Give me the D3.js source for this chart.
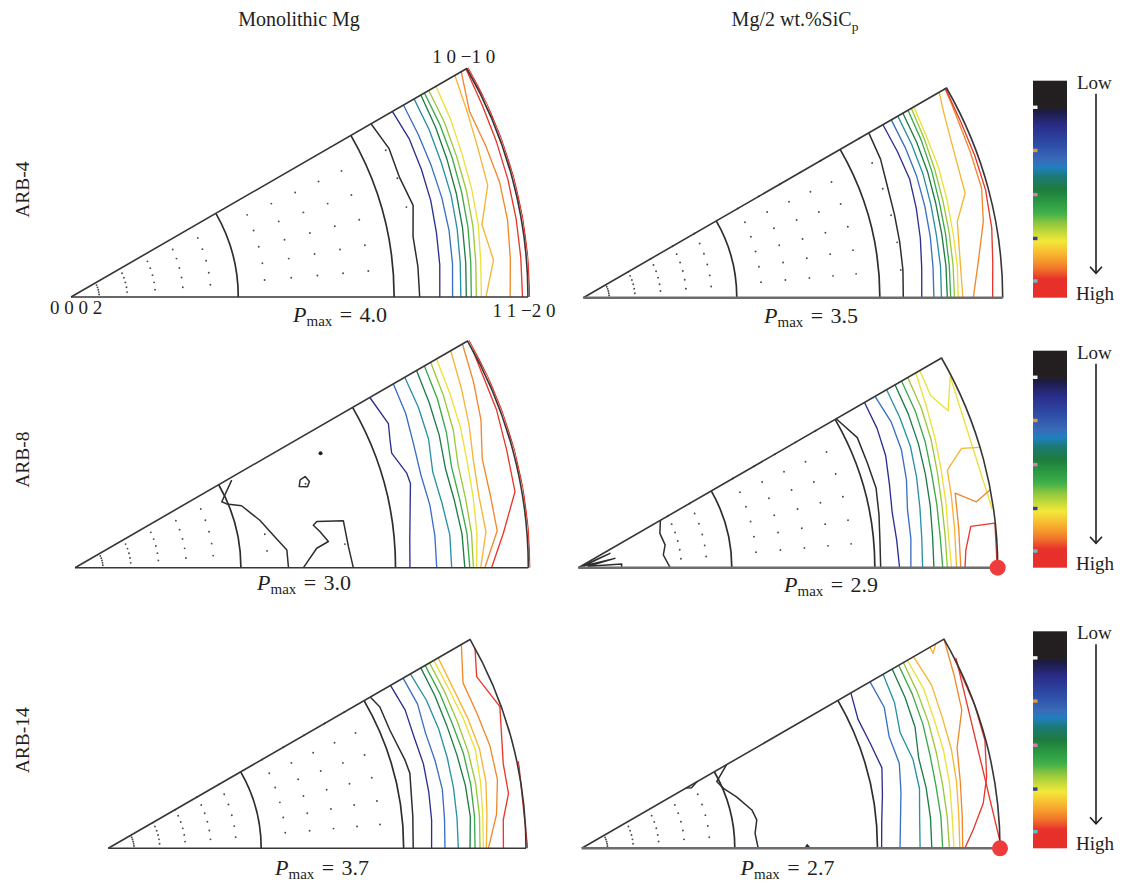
<!DOCTYPE html>
<html>
<head>
<meta charset="utf-8">
<script src="https://cdn.jsdelivr.net/npm/d3@7"></script>
<style>
  html, body { margin: 0; background: #fff; }
  svg { display: block; }
  text { font-family: "Liberation Serif", "DejaVu Serif", serif; fill: #231f20; }
</style>
</head>
<body>
<svg id="chart" width="1126" height="881"></svg>
<script>
// ---------------------------------------------------------------------------
// Inverse pole figures (basal 0002 at the apex, 10-10 top, 11-20 right).
// Radii are fractions of the outer circle (equal-area projection),
// azimuths φ are in degrees measured from the 0002–11-20 edge.
// ---------------------------------------------------------------------------
const columnTitles = ["Monolithic Mg", "Mg/2 wt.%SiC"];
const columnTitleSub = ["", "p"];
const rowLabels = ["ARB-4", "ARB-8", "ARB-14"];
const pmaxLabels = ["4.0", "3.5", "3.0", "2.9", "3.7", "2.7"];
const peakMarkers = [false, false, false, true, false, true];
const cornerLabels = ["0 0 0 2", "1 0 \u22121 0", "1 1 \u22122 0"];

const phiSamples = [0, 5, 10, 15, 20, 25, 30];   // azimuths of regular contour samples
const referenceArcs = [30, 60];                   // polar angles Φ of drawn reference circles

const levelColor = {
  black: "#2e2e2e", navy: "#2d2f8e", blue: "#3b6fc3", teal: "#2990a5",
  dkgreen: "#1f7b47", green: "#3ca94b", ltgreen: "#9cc93c", yellow: "#ebe13a",
  ltorange: "#f6b534", orange: "#f0892d", red: "#e8382c"
};

// colour scale of the legend bar (offset, colour)
const scaleStops = [
  [0, "#231f20"], [0.12, "#231f20"], [0.14, "#1c1c44"], [0.21, "#2a2d8a"],
  [0.30, "#2e4fa8"], [0.365, "#3a6bb8"], [0.40, "#1f7fbf"], [0.44, "#1c7a78"],
  [0.50, "#1d7b3d"], [0.56, "#2c9a42"], [0.61, "#3fb04a"], [0.655, "#8cc63f"],
  [0.70, "#c5d93a"], [0.74, "#f2e93a"], [0.785, "#f8c132"], [0.83, "#f59a2b"],
  [0.87, "#f0702a"], [0.915, "#e8302a"], [1, "#e8302a"]
];
const scaleTicks = [[0.1225, "#f4f4f4"], [0.3216, "#e89a3a"], [0.525, "#d77fb0"], [0.727, "#3040a0"], [0.923, "#60c0c8"]];

// contour: [level, radii at phiSamples]  or  [level, [[r, φ], ...]]
const arb4Mono = [
  ["black",   [0.763, 0.762, 0.760, 0.775, 0.765, 0.768, 0.758]],
  ["navy",    [0.807, 0.810, 0.812, 0.815, 0.816, 0.817, 0.812]],
  ["blue",    [0.835, 0.838, 0.840, 0.840, 0.839, 0.839, 0.840]],
  ["teal",    [0.853, 0.855, 0.858, 0.861, 0.862, 0.865, 0.867]],
  ["dkgreen", [0.865, 0.867, 0.870, 0.873, 0.876, 0.880, 0.884]],
  ["green",   [0.876, 0.878, 0.882, 0.885, 0.888, 0.891, 0.893]],
  ["ltgreen", [0.887, 0.889, 0.893, 0.896, 0.898, 0.902, 0.904]],
  ["yellow",  [0.898, 0.900, 0.905, 0.908, 0.911, 0.917, 0.922]],
  ["ltorange",[0.908, 0.928, 0.913, 0.944, 0.948, 0.957, 0.970]],
  ["orange",  [0.961, 0.965, 0.970, 0.971, 0.966, 0.962, 0.986]],
  ["red",     [0.988, 0.988, 0.989, 0.990, 0.991, 0.993, 0.998]],
  ["red",     [1.004, 1.004, 1.004, 1.004, 1.004, 1.004, 1.004]]
];
const arb4Sic = [
  ["black",   [0.763, 0.765, 0.766, 0.768, 0.772, 0.782, 0.786]],
  ["navy",    [0.807, 0.810, 0.816, 0.822, 0.828, 0.826, 0.825]],
  ["blue",    [0.836, 0.837, 0.840, 0.843, 0.846, 0.847, 0.848]],
  ["teal",    [0.854, 0.855, 0.855, 0.858, 0.862, 0.864, 0.866]],
  ["dkgreen", [0.868, 0.868, 0.868, 0.870, 0.874, 0.877, 0.880]],
  ["green",   [0.876, 0.876, 0.877, 0.879, 0.884, 0.889, 0.894]],
  ["ltgreen", [0.885, 0.885, 0.886, 0.888, 0.892, 0.897, 0.903]],
  ["yellow",  [0.894, 0.895, 0.895, 0.898, 0.902, 0.904, 0.910]],
  ["ltorange",[[0.905, 0], [0.903, 6], [0.910, 11.5], [0.944, 15.3], [0.949, 21], [0.967, 27.4], [0.980, 30]]],
  ["orange",  [[0.930, 0], [0.946, 5.3], [0.971, 10.8], [0.985, 15.4], [0.986, 20.7], [0.992, 27.6], [0.996, 30]]],
  ["red",     [[0.976, 0], [0.980, 5], [0.988, 9.7], [0.993, 15], [0.993, 20], [0.993, 25], [0.997, 30]]]
];
const arb8Mono = [
  ["black",   [[0.396, 29.2], [0.355, 24.2], [0.363, 22.8], [0.392, 20.4], [0.421, 14.4], [0.443, 9.4], [0.469, 4.8], [0.471, 0]]],
  ["black",   [[0.504, 0], [0.535, 4.6], [0.562, 5.9], [0.546, 8.4], [0.534, 10.1], [0.543, 10.8], [0.601, 9.9], [0.605, 4.4], [0.614, 0]]],
  ["black",   [[0.533, 21.3], [0.546, 21.6], [0.551, 20.2], [0.543, 19.2], [0.526, 19.9], [0.533, 21.3]]],
  ["navy",    [[0.751, 30], [0.761, 24.7], [0.750, 22.1], [0.743, 19.9], [0.761, 15.9], [0.763, 14.1], [0.741, 4.7], [0.739, 0]]],
  ["blue",    [0.798, 0.797, 0.795, 0.790, 0.795, 0.805, 0.811]],
  ["teal",    [0.831, 0.830, 0.822, 0.817, 0.830, 0.836, 0.840]],
  ["dkgreen", [0.860, 0.857, 0.850, 0.846, 0.855, 0.862, 0.870]],
  ["green",   [0.871, 0.868, 0.862, 0.860, 0.872, 0.882, 0.890]],
  ["ltgreen", [0.879, 0.878, 0.875, 0.875, 0.888, 0.897, 0.906]],
  ["yellow",  [0.886, 0.890, 0.892, 0.896, 0.905, 0.912, 0.921]],
  ["ltorange",[0.895, 0.910, 0.905, 0.910, 0.925, 0.940, 0.957]],
  ["orange",  [0.904, 0.935, 0.930, 0.930, 0.953, 0.970, 0.987]],
  ["red",     [[0.919, 0], [0.948, 4.6], [0.985, 9.8], [0.987, 15.2], [0.993, 20.5], [1.0, 28.6]]],
  ["red",     [1.004, 1.004, 1.004, 1.004, 1.004, 1.004, 1.004]]
];
const arb8Sic = [
  ["black",   [[0.0, 0], [0.083, 24.4], [0.013, 18], [0.090, 14.3], [0.024, 7.6], [0.104, 4.8], [0.103, 0]]],
  ["black",   [[0.226, 30], [0.211, 22.8], [0.214, 14.7], [0.205, 8.5], [0.219, 0]]],
  ["black",   [0.721, 0.722, 0.728, 0.735, 0.733, 0.734, 0.710]],
  ["navy",    [0.766, 0.762, 0.760, 0.768, 0.780, 0.786, 0.788]],
  ["blue",    [0.793, 0.796, 0.797, 0.810, 0.820, 0.823, 0.817]],
  ["teal",    [0.821, 0.822, 0.827, 0.835, 0.843, 0.846, 0.849]],
  ["dkgreen", [0.848, 0.848, 0.852, 0.857, 0.863, 0.868, 0.872]],
  ["green",   [0.869, 0.866, 0.868, 0.872, 0.880, 0.886, 0.890]],
  ["ltgreen", [0.880, 0.878, 0.880, 0.886, 0.895, 0.902, 0.907]],
  ["yellow",  [0.890, 0.886, 0.890, 0.896, 0.905, 0.915, 0.929]],
  ["yellow",  [[0.940, 30], [0.935, 26], [0.958, 23], [0.997, 27.2], [0.997, 8]]],
  ["ltorange",[[0.902, 0], [0.902, 6], [0.906, 11], [0.910, 14.8], [0.957, 17.3], [0.998, 16.7]]],
  ["orange",  [[0.912, 0], [0.912, 6], [0.916, 11.2], [0.962, 9.4], [0.999, 10.7]]],
  ["red",     [[0.922, 0], [0.925, 2.6], [0.941, 6], [0.999, 6.1], [0.999, 0]]]
];
const arb14Mono = [
  ["black",   [[0.730, 0], [0.733, 6], [0.744, 14], [0.741, 16.6], [0.731, 22.8], [0.733, 27.5], [0.724, 30]]],
  ["navy",    [0.774, 0.777, 0.779, 0.781, 0.779, 0.784, 0.780]],
  ["blue",    [0.806, 0.808, 0.812, 0.810, 0.808, 0.817, 0.815]],
  ["teal",    [0.838, 0.838, 0.839, 0.840, 0.841, 0.840, 0.835]],
  ["dkgreen", [0.866, 0.870, 0.868, 0.864, 0.862, 0.863, 0.864]],
  ["green",   [0.878, 0.880, 0.881, 0.880, 0.876, 0.876, 0.876]],
  ["ltgreen", [0.890, 0.892, 0.893, 0.892, 0.889, 0.888, 0.888]],
  ["yellow",  [0.898, 0.900, 0.905, 0.910, 0.905, 0.900, 0.900]],
  ["ltorange",[0.905, 0.910, 0.918, 0.920, 0.915, 0.910, 0.912]],
  ["orange",  [0.910, 0.933, 0.946, 0.946, 0.940, 0.937, 0.976]],
  ["red",     [[0.946, 0], [0.948, 4.1], [0.967, 7.8], [0.967, 12.1], [0.997, 19.9], [0.973, 25], [1.0, 28.6]]],
  ["red",     [[1.004, 0], [1.004, 12]]]
];
const arb14Sic = [
  ["black",   [[0.400, 30], [0.360, 26.3], [0.368, 22.9], [0.390, 18.4], [0.417, 12.7], [0.424, 9.2], [0.416, 4.9], [0.422, 0]]],
  ["black",   [[0.288, 30], [0.300, 28.9], [0.318, 30]]],
  ["black",   [[0.534, 0], [0.539, 0.9], [0.546, 0]]],
  ["navy",    [0.717, 0.720, 0.730, 0.743, 0.734, 0.729, 0.743]],
  ["blue",    [0.761, 0.765, 0.775, 0.786, 0.782, 0.798, 0.796]],
  ["teal",    [0.809, 0.811, 0.820, 0.820, 0.810, 0.825, 0.832]],
  ["dkgreen", [0.837, 0.837, 0.836, 0.834, 0.848, 0.853, 0.857]],
  ["green",   [0.863, 0.862, 0.860, 0.862, 0.868, 0.872, 0.875]],
  ["ltgreen", [0.879, 0.877, 0.876, 0.878, 0.882, 0.885, 0.888]],
  ["yellow",  [0.890, 0.889, 0.893, 0.896, 0.897, 0.902, 0.899]],
  ["ltorange",[0.904, 0.905, 0.910, 0.915, 0.917, 0.923, 0.916]],
  ["ltorange",[[0.961, 30], [0.961, 29], [0.977, 30]]],
  ["orange",  [0.911, 0.913, 0.919, 0.929, 0.967, 0.982, 1.0]],
  ["red",     [[0.916, 0], [0.937, 2.7], [0.966, 6.4], [0.983, 10], [0.998, 15], [1.0, 20], [1.0, 27]]],
  ["red",     [[1.004, 0], [1.004, 27]]]
];

// low-intensity grid points: [Φ, φ from, φ to] on a 5° grid
const arb4MonoDots = [[5,5,25],[10,5,25],[15,5,25],[20,5,25],[25,5,25],[35,5,25],[40,5,25],[45,5,25],[50,5,25],[55,5,25],[65,15,25]];
const arb4SicDots  = [[5,5,30],[10,5,30],[15,5,30],[20,5,30],[25,5,30],[35,5,30],[40,5,30],[45,5,30],[50,5,30],[55,5,30],[65,5,30]];
const arb8MonoDots = [[5,5,25],[10,5,25],[15,5,25],[20,5,25],[25,5,25],[35,5,10],[45,20,20],[50,5,5]];
const arb8SicDots  = [[20,5,30],[25,5,30],[35,5,30],[40,5,30],[45,5,30],[50,5,30],[55,5,30]];
const arb14MonoDots= [[5,5,30],[10,5,30],[15,5,30],[20,5,30],[25,5,30],[35,5,30],[40,5,30],[45,5,30],[50,5,30],[55,5,30]];
const arb14SicDots = [[5,5,25],[10,5,25],[15,5,25],[20,5,25],[25,5,25]];
const arb8MonoSpots = [[50, 25]];

// ---------------------------------------------------------------------------
// layout
// ---------------------------------------------------------------------------
const panels = [
  { x: 71,    y: 297,   R: 457,   contours: arb4Mono,  dots: arb4MonoDots,  spots: [],            label: [340, 321.7] },
  { x: 583.3, y: 297.7, R: 419.4, contours: arb4Sic,   dots: arb4SicDots,   spots: [],            label: [811, 323.3] },
  { x: 75,    y: 567.7, R: 453.3, contours: arb8Mono,  dots: arb8MonoDots,  spots: arb8MonoSpots, label: [304, 590] },
  { x: 578.3, y: 567.7, R: 419.4, contours: arb8Sic,   dots: arb8SicDots,   spots: [],            label: [831, 591.7] },
  { x: 108.3, y: 848.3, R: 417.7, contours: arb14Mono, dots: arb14MonoDots, spots: [],            label: [322, 875] },
  { x: 581.7, y: 848.3, R: 418.3, contours: arb14Sic,  dots: arb14SicDots,  spots: [],            label: [787.5, 875] }
];
const rowBaseY = [297.7, 567.7, 848.3];

const svg = d3.select("#chart");
const defs = svg.append("defs");
const eqArea = polar => Math.SQRT2 * Math.sin(polar * Math.PI / 360);

panels.forEach((p, i) => {
  const right = i % 2 === 1;
  const g = svg.append("g").attr("transform", `translate(${p.x},${p.y})`);
  const rScale = d3.scaleLinear().domain([0, 1]).range([0, p.R]);
  const aScale = d3.scaleLinear().domain([0, 30]).range([Math.PI / 2, Math.PI / 3]);

  // clip region: the sector itself, a little enlarged
  defs.append("clipPath").attr("id", "sector" + i)
    .append("path")
    .attr("d", d3.arc()({ innerRadius: 0, outerRadius: p.R + 2.2,
                          startAngle: Math.PI / 3 - 0.01, endAngle: Math.PI / 2 + 0.004 }));

  const plot = g.append("g").attr("clip-path", `url(#sector${i})`);

  // grid points
  const pts = [];
  p.dots.forEach(([polar, a0, a1]) => {
    for (let a = a0; a <= a1; a += 5) pts.push(d3.pointRadial(aScale(a), rScale(eqArea(polar))));
  });
  plot.selectAll("circle.dot").data(pts).join("circle")
    .attr("class", "dot").attr("cx", d => d[0]).attr("cy", d => d[1])
    .attr("r", 0.95).attr("fill", "#4a4a4a");
  plot.selectAll("circle.spot").data(p.spots.map(([polar, a]) => d3.pointRadial(aScale(a), rScale(eqArea(polar)))))
    .join("circle").attr("class", "spot")
    .attr("cx", d => d[0]).attr("cy", d => d[1]).attr("r", 2).attr("fill", "#222");

  // reference circles at Φ = 30°, 60°
  referenceArcs.forEach(polar => {
    const r = rScale(eqArea(polar));
    const path = d3.path();
    path.moveTo(r, 0);
    path.arc(0, 0, r, 0, -Math.PI / 6, true);
    plot.append("path").attr("d", path.toString())
      .attr("fill", "none").attr("stroke", "#2e2e2e").attr("stroke-width", 1.7);
  });

  // intensity contours
  const line = d3.lineRadial().angle(d => aScale(d[0])).radius(d => rScale(d[1]));
  p.contours.forEach(([level, vals]) => {
    const pointsPolar = typeof vals[0] === "number"
      ? vals.map((r, k) => [phiSamples[k], r])
      : vals.map(([r, a]) => [a, r]);
    plot.append("path").attr("d", line(pointsPolar))
      .attr("fill", "none").attr("stroke", levelColor[level])
      .attr("stroke-width", level === "black" ? 1.5 : 1.35)
      .attr("stroke-linejoin", "round");
  });

  // outline: outer circle + 0002–10-10 edge, then 0002–11-20 edge
  const outline = d3.path();
  outline.moveTo(p.R, 0);
  outline.arc(0, 0, p.R, 0, -Math.PI / 6, true);
  outline.lineTo(0, 0);
  g.append("path").attr("d", outline.toString())
    .attr("fill", "none").attr("stroke", "#363636").attr("stroke-width", 1.6)
    .attr("stroke-linejoin", "round");
  g.append("line").attr("x1", 0).attr("y1", 0).attr("x2", p.R).attr("y2", 0)
    .attr("stroke", right ? "#6c6c6c" : "#363636").attr("stroke-width", right ? 2.5 : 1.6);

  if (peakMarkers[i]) {
    const c = d3.pointRadial(aScale(0), rScale(1));
    g.append("circle").attr("cx", c[0]).attr("cy", c[1]).attr("r", 8).attr("fill", "#ee3b3b");
  }

  // P_max annotation
  const t = svg.append("text").attr("x", p.label[0]).attr("y", p.label[1])
    .attr("text-anchor", "middle").attr("font-size", 22);
  t.append("tspan").attr("font-style", "italic").text("P");
  t.append("tspan").attr("font-size", 15).attr("dy", 4).text("max");
  t.append("tspan").attr("dy", -4).text("\u2004=\u2004" + pmaxLabels[i]);
});

// crystal-direction labels on the first figure
const p0 = panels[0];
svg.append("text").attr("x", 50).attr("y", 314).attr("font-size", 19).text(cornerLabels[0]);
svg.append("text").attr("x", p0.x + Math.cos(Math.PI / 6) * p0.R - 3).attr("y", 63)
  .attr("text-anchor", "middle").attr("font-size", 19).text(cornerLabels[1]);
svg.append("text").attr("x", p0.x + p0.R - 4).attr("y", 316.7)
  .attr("text-anchor", "middle").attr("font-size", 19).text(cornerLabels[2]);

// column titles
[299, 795].forEach((cx, j) => {
  const t = svg.append("text").attr("x", cx).attr("y", 26).attr("text-anchor", "middle").attr("font-size", 20);
  t.append("tspan").text(columnTitles[j]);
  if (columnTitleSub[j]) t.append("tspan").attr("font-size", 13.5).attr("dy", 5).text(columnTitleSub[j]);
});

// row labels
rowLabels.forEach((lab, j) => {
  svg.append("text").attr("transform", `translate(29,${rowBaseY[j] - 108}) rotate(-90)`)
    .attr("text-anchor", "middle").attr("font-size", 19.5).text(lab);
});

// colour scale legend
const grad = defs.append("linearGradient").attr("id", "intensity")
  .attr("x1", 0).attr("y1", 0).attr("x2", 0).attr("y2", 1);
scaleStops.forEach(([o, c]) => grad.append("stop").attr("offset", o).attr("stop-color", c));

rowBaseY.forEach(by => {
  const top = by - 217, h = 217;
  const lg = svg.append("g");
  lg.append("rect").attr("x", 1033).attr("y", top).attr("width", 34).attr("height", h).attr("fill", "url(#intensity)");
  const yPos = d3.scaleLinear().domain([0, 1]).range([top, top + h]);
  scaleTicks.forEach(([o, c]) => lg.append("rect").attr("x", 1033).attr("y", yPos(o) - 1.7)
    .attr("width", 4.5).attr("height", 3.4).attr("fill", c));
  lg.append("text").attr("x", 1077).attr("y", top + 8).attr("font-size", 19).text("Low");
  lg.append("text").attr("x", 1076).attr("y", by + 2).attr("font-size", 19).text("High");
  lg.append("line").attr("x1", 1096).attr("x2", 1096).attr("y1", top + 13).attr("y2", by - 24.5)
    .attr("stroke", "#231f20").attr("stroke-width", 1.6);
  lg.append("path").attr("d", `M1090,${by - 31} L1096,${by - 24.5} L1102,${by - 31}`)
    .attr("fill", "none").attr("stroke", "#231f20").attr("stroke-width", 1.6);
});
</script>
</body>
</html>
